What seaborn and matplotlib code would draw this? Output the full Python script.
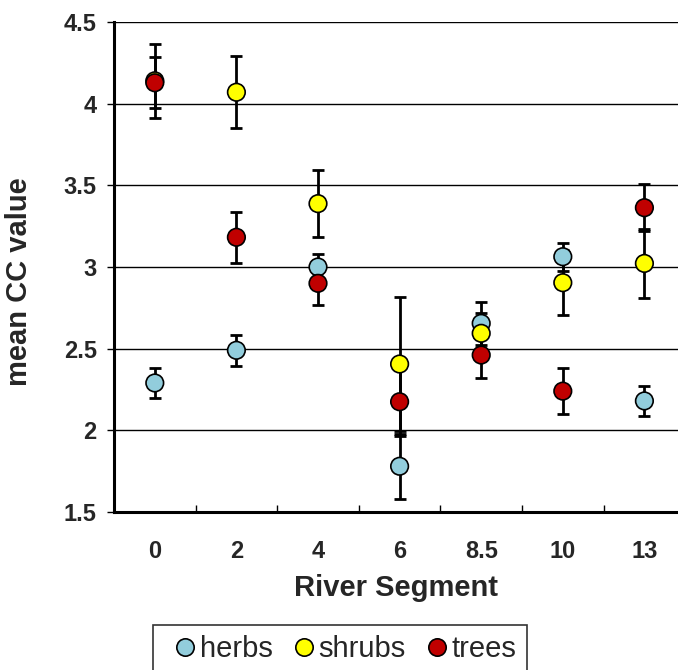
import numpy as np
import pandas as pd
import matplotlib
matplotlib.use("Agg")
import matplotlib.pyplot as plt
import seaborn as sns

sns.set_theme(style="white")
plt.rcParams["font.family"] = ["Liberation Sans", "DejaVu Sans"]

# --- data ---
segments = ["0", "2", "4", "6", "8.5", "10", "13"]

herbs_mean = [2.29, 2.49, 3.00, 1.78, 2.655, 3.063, 2.18]
herbs_err = [0.09, 0.095, 0.08, 0.20, 0.13, 0.086, 0.09]

shrubs_mean = [4.14, 4.07, 3.388, 2.406, 2.594, 2.904, 3.022]
shrubs_err = [0.225, 0.222, 0.205, 0.41, 0.125, 0.20, 0.21]

trees_mean = [4.128, 3.182, 2.90, 2.175, 2.461, 2.24, 3.363]
trees_err = [0.155, 0.155, 0.13, 0.21, 0.14, 0.14, 0.145]

groups = ["herbs", "shrubs", "trees"]
colors = {"herbs": "#92CDDC", "shrubs": "#FFFF00", "trees": "#C00000"}

frames = []
for g, m, e in zip(groups, [herbs_mean, shrubs_mean, trees_mean],
                   [herbs_err, shrubs_err, trees_err]):
    frames.append(pd.DataFrame({"segment": segments, "mean": m, "err": e, "group": g}))
df = pd.concat(frames, ignore_index=True)

# --- figure ---
fig = plt.figure(figsize=(6.78, 6.70), dpi=100)
ax = fig.add_axes([114 / 678, 1 - 512 / 670, 1 - 114 / 678, (512 - 22) / 670])

for g in groups:
    sub = df[df["group"] == g]
    ax.errorbar(sub["segment"], sub["mean"], yerr=sub["err"], fmt="none",
                ecolor="black", elinewidth=2, capsize=4.5, capthick=2, zorder=2)

sns.scatterplot(data=df, x="segment", y="mean", hue="group", palette=colors,
                s=160, edgecolor="black", linewidth=1.2, zorder=3, ax=ax, legend=False)

ax.set_yticks(np.arange(1.5, 4.51, 0.5))
ax.set_yticklabels(["1.5", "2", "2.5", "3", "3.5", "4", "4.5"])
for yv in np.arange(2.0, 4.51, 0.5):
    ax.axhline(yv, color="black", lw=1, zorder=1)

ax.set_xticks(range(len(segments)))
ax.set_xticklabels(segments)
ax.set_xticks(np.arange(0.5, len(segments), 1), minor=True)
# limits after the ticks, otherwise set_xticks widens them
ax.set_ylim(1.5, 4.5)
ax.set_xlim(-0.5, (678 - 114) / 81.6 - 0.5)

ax.tick_params(axis="x", which="major", length=0, pad=20, labelsize=17)
ax.tick_params(axis="x", which="minor", direction="in", length=5, width=1, color="black", bottom=True)
ax.tick_params(axis="y", which="major", direction="out", length=5, width=1, color="black",
               left=True, labelsize=17, pad=7.5)
for lab in ax.get_xticklabels() + ax.get_yticklabels():
    lab.set_fontweight("bold")

for s in ["top", "right"]:
    ax.spines[s].set_visible(False)
ax.spines["left"].set_color("black")
ax.spines["left"].set_linewidth(2.2)
ax.spines["bottom"].set_color("black")
ax.spines["bottom"].set_linewidth(2.2)

ax.set_xlabel("River Segment", fontsize=21, fontweight="bold", labelpad=8)
ax.set_ylabel("mean CC value", fontsize=21, fontweight="bold")
ax.yaxis.set_label_coords(-0.1436, 0.47)

# legend
handles = [plt.Line2D([], [], marker="o", ls="none", markersize=12.5,
                      markerfacecolor=colors[g], markeredgecolor="black",
                      markeredgewidth=1.2) for g in groups]
leg = fig.legend(handles, groups, loc="upper left", bbox_to_anchor=(153 / 678, 1 - 625 / 670),
                 ncol=3, fontsize=21, frameon=True, fancybox=False, edgecolor="black",
                 borderaxespad=0, handletextpad=-0.25, columnspacing=0.33, handlelength=1.5,
                 borderpad=0.35)
leg.get_frame().set_linewidth(1.2)

fig.savefig("out.png", dpi=100)
